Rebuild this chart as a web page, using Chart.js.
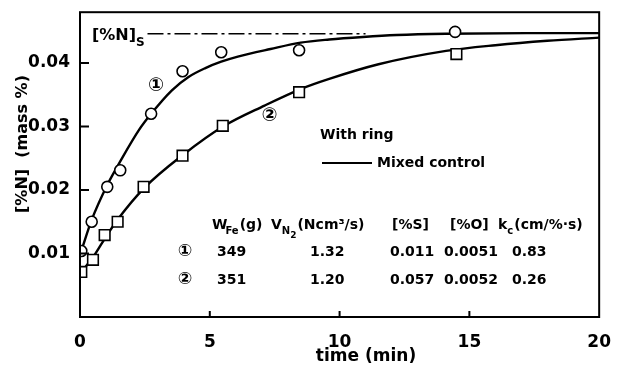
<!DOCTYPE html>
<html lang="en">
<head>
<meta charset="UTF-8" />
<title>Nitrogen absorption with ring</title>
<script src="https://cdn.jsdelivr.net/npm/chart.js"></script>
<style>
  body { margin: 0; background: #fff; }
  #wrap { width: 618px; height: 369px; }
</style>
</head>
<body>
<div id="wrap"><canvas id="nChart"></canvas></div>
<script>
// measured [%N], run 1 (circles) and run 2 (squares)
const run1Time = [0.05, 0.45, 1.05, 1.55, 2.74, 3.95, 5.44, 8.44, 14.45];
const run1N = [0.0104, 0.0150, 0.0205, 0.0231, 0.0320, 0.0387, 0.0417, 0.0420, 0.0449];
const run2Time = [0.05, 0.5, 0.95, 1.45, 2.45, 3.95, 5.5, 8.44, 14.5];
const run2N = [0.0071, 0.0090, 0.0129, 0.0150, 0.0205, 0.0254, 0.0301, 0.0354, 0.0414];

// mixed control curves
const fit1Time = [0.05, 0.45, 1.05, 1.55, 2.28, 2.74, 3.54, 4.18, 4.83, 5.44, 6.08, 7.34, 8.5, 9.6, 10.9, 12.2, 14.1, 17.2, 20];
const fit1N = [0.0104, 0.0153, 0.0208, 0.0245, 0.0295, 0.0320, 0.0357, 0.0378, 0.0392, 0.0402, 0.0410, 0.0422, 0.0432, 0.0437, 0.0441, 0.0444, 0.0446, 0.0447, 0.0447];
const fit2Time = [0.05, 0.5, 0.98, 1.48, 2.47, 3.99, 5.51, 7.11, 8.5, 9.6, 11.5, 14.1, 16, 18, 20];
const fit2N = [0.0071, 0.0094, 0.0125, 0.0155, 0.0203, 0.0256, 0.0300, 0.0333, 0.0359, 0.0375, 0.0398, 0.0419, 0.0428, 0.0435, 0.0440];

// saturation level [%N]s
const satTime = [2.6, 11];
const satN = [0.0446, 0.0446];

const xTicks = [0, 5, 10, 15, 20];
const yTicks = [0.01, 0.02, 0.03, 0.04];

// experimental conditions table
const runMarks = ['\u2460', '\u2461'];
const massFe = ['349', '351'];
const flowN2 = ['1.32', '1.20'];
const sulfur = ['0.011', '0.057'];
const oxygen = ['0.0051', '0.0052'];
const kc = ['0.83', '0.26'];

const FONT = '"DejaVu Sans"';
const pts = (xs, ys) => xs.map((x, i) => ({ x: x, y: ys[i] }));

function txt(ctx, s, x, y, size, align) {
  ctx.font = 'bold ' + size + 'px ' + FONT;
  ctx.textAlign = align || 'left';
  ctx.fillText(s, x, y);
  return x + ctx.measureText(s).width;
}

const frame = {
  id: 'frame',
  afterDraw(chart) {
    const { ctx, chartArea: a, scales: { x, y } } = chart;
    ctx.save();
    ctx.strokeStyle = '#000';
    ctx.fillStyle = '#000';
    ctx.lineWidth = 2;
    ctx.strokeRect(a.left, a.top, a.right - a.left, a.bottom - a.top);

    // inward tick marks
    ctx.beginPath();
    yTicks.forEach(v => {
      const py = y.getPixelForValue(v);
      ctx.moveTo(a.left, py);
      ctx.lineTo(a.left + 9, py);
    });
    xTicks.slice(1, -1).forEach(v => {
      const px = x.getPixelForValue(v);
      ctx.moveTo(px, a.bottom);
      ctx.lineTo(px, a.bottom - 6);
    });
    ctx.stroke();

    ctx.textBaseline = 'middle';

    // axis titles
    txt(ctx, 'time (min)', 366, 357, 17, 'center');
    ctx.save();
    ctx.translate(23, 144);
    ctx.rotate(-Math.PI / 2);
    txt(ctx, '[%N]  (mass %)', 0, 0, 16, 'center');
    ctx.restore();

    // saturation label
    let e = txt(ctx, '[%N]', 92, 36, 16);
    txt(ctx, 'S', e, 43, 12);

    // curve labels
    txt(ctx, runMarks[0], x.getPixelForValue(2.93), y.getPixelForValue(0.0364), 19, 'center');
    txt(ctx, runMarks[1], x.getPixelForValue(7.3), y.getPixelForValue(0.0317), 19, 'center');

    // legend
    txt(ctx, 'With ring', 320, 135, 14);
    ctx.beginPath();
    ctx.moveTo(322, 163);
    ctx.lineTo(372, 163);
    ctx.stroke();
    txt(ctx, 'Mixed control', 377, 163, 14);

    // table header
    e = txt(ctx, 'W', 212, 225, 14);
    e = txt(ctx, 'Fe', e - 2, 231, 10);
    txt(ctx, '(g)', e + 1, 225, 14);
    e = txt(ctx, 'V', 271, 225, 14);
    e = txt(ctx, 'N', e, 231, 10);
    e = txt(ctx, '2', e, 236, 9);
    txt(ctx, '(Ncm\u00b3/s)', e + 1, 225, 14);
    txt(ctx, '[%S]', 392, 225, 14);
    txt(ctx, '[%O]', 450, 225, 14);
    e = txt(ctx, 'k', 498, 225, 14);
    e = txt(ctx, 'c', e, 231, 10);
    txt(ctx, '(cm/%\u00b7s)', e + 1, 225, 14);

    // table rows
    [252, 280].forEach((ry, i) => {
      txt(ctx, runMarks[i], 185, ry, 17, 'center');
      txt(ctx, massFe[i], 217, ry, 14);
      txt(ctx, flowN2[i], 310, ry, 14);
      txt(ctx, sulfur[i], 390, ry, 14);
      txt(ctx, oxygen[i], 444, ry, 14);
      txt(ctx, kc[i], 512, ry, 14);
    });
    ctx.restore();
  }
};

const markStyle = {
  showLine: false,
  pointBackgroundColor: '#fff',
  pointBorderColor: '#000',
  pointBorderWidth: 1.6,
  order: 0
};
const curveStyle = {
  borderColor: '#000',
  borderWidth: 2.4,
  pointRadius: 0,
  cubicInterpolationMode: 'monotone',
  order: 1
};

Chart.defaults.font.family = FONT;
Chart.defaults.color = '#000';

new Chart(document.getElementById('nChart'), {
  type: 'line',
  data: {
    datasets: [
      { ...markStyle, label: 'run 1', data: pts(run1Time, run1N), pointStyle: 'circle', pointRadius: 5.5 },
      { ...markStyle, label: 'run 2', data: pts(run2Time, run2N), pointStyle: 'rect', pointRadius: 7.5 },
      { ...curveStyle, label: 'fit 1', data: pts(fit1Time, fit1N) },
      { ...curveStyle, label: 'fit 2', data: pts(fit2Time, fit2N) },
      { label: '[%N]s', data: pts(satTime, satN), borderColor: '#000', borderWidth: 1.6,
        borderDash: [16, 4, 3, 4], pointRadius: 0, order: 1 }
    ]
  },
  options: {
    responsive: true,
    maintainAspectRatio: false,
    animation: false,
    layout: { padding: { top: 12, right: 12, left: 0, bottom: 0 } },
    plugins: { legend: { display: false }, tooltip: { enabled: false } },
    scales: {
      x: {
        type: 'linear',
        min: 0,
        max: 20,
        afterBuildTicks: s => { s.ticks = xTicks.map(v => ({ value: v })); },
        afterFit: s => { s.height = 52; },
        grid: { display: false },
        border: { display: false },
        ticks: { padding: 7, maxRotation: 0, font: { size: 17, weight: 'bold' } }
      },
      y: {
        min: 0,
        max: 0.048,
        afterBuildTicks: s => { s.ticks = yTicks.map(v => ({ value: v })); },
        afterFit: s => { s.width = 80; },
        grid: { display: false },
        border: { display: false },
        ticks: { padding: 2, font: { size: 17, weight: 'bold' }, callback: v => v.toFixed(2) }
      }
    }
  },
  plugins: [frame]
});
</script>
</body>
</html>
